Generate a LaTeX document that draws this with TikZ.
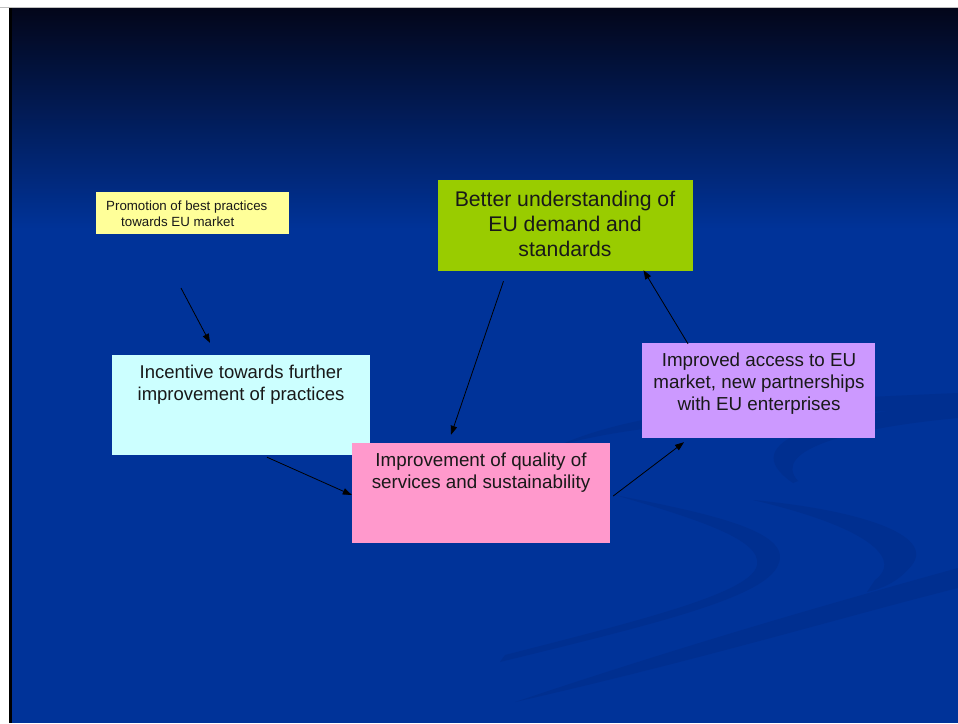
\documentclass[tikz,border=0pt]{standalone}
\usepackage{fontspec}
\setmainfont{Liberation Sans}
\usetikzlibrary{arrows.meta}

\definecolor{slideblue}{HTML}{003399}
\definecolor{topdark}{HTML}{03061A}
\definecolor{swoosh}{HTML}{002F90}
\definecolor{promoyellow}{HTML}{FFFF99}
\definecolor{eugreen}{HTML}{99CC00}
\definecolor{incentcyan}{HTML}{CCFFFF}
\definecolor{qualpink}{HTML}{FF99CC}
\definecolor{accesslilac}{HTML}{CC99FF}

\begin{document}
\begin{tikzpicture}[x=1pt,y=-1pt,every node/.style={inner sep=0pt},
  box/.style={rectangle,draw=none},
  txt/.style={align=center,text=black!90},
  arr/.style={-{Triangle[length=9pt,width=6.5pt]},line width=0.8pt,black}]
\useasboundingbox (0,0) rectangle (958,723);
% slide background
\fill[white] (0,0) rectangle (958,723);
\fill[slideblue] (9,8) rectangle (958,723);
\shade[top color=topdark,bottom color=slideblue] (9,8) rectangle (958,230);
\draw[gray!50,line width=1pt] (0,7.5) -- (958,7.5);
\fill[black] (9,8) rectangle (11.5,723);
% faint swooshes
\fill[swoosh] (560,445) .. controls (650,405) and (800,400) .. (958,393)
  -- (958,408) .. controls (800,415) and (650,420) .. (560,445) -- cycle;
\fill[swoosh] (615,495) .. controls (700,512) and (795,530) .. (778,565)
  .. controls (765,598) and (650,625) .. (500,662)
  -- (505,655) .. controls (650,618) and (752,592) .. (757,565)
  .. controls (762,540) and (700,520) .. (615,495) -- cycle;
\fill[swoosh] (958,402) .. controls (830,415) and (730,440) .. (793,483)
  -- (798,481) .. controls (770,450) and (850,428) .. (958,418) -- cycle;
\fill[swoosh] (753,500) .. controls (860,510) and (935,535) .. (912,565)
  .. controls (900,580) and (885,588) .. (867,592)
  -- (875,580) .. controls (900,562) and (880,530) .. (753,500) -- cycle;
\fill[swoosh] (515,702) .. controls (700,640) and (850,598) .. (958,568)
  -- (958,588) .. controls (850,615) and (700,660) .. (515,702) -- cycle;

% boxes
\node[box,fill=promoyellow,minimum width=193pt,minimum height=42pt] (promo) at (192.5,213) {};
\node[box,fill=eugreen,minimum width=255pt,minimum height=91pt] (green) at (565.5,225.5) {};
\node[box,fill=incentcyan,minimum width=258pt,minimum height=100pt] (cyan) at (241,405) {};
\node[box,fill=qualpink,minimum width=258pt,minimum height=100pt] (pink) at (481,493) {};
\node[box,fill=accesslilac,minimum width=233pt,minimum height=95pt] (lilac) at (758.5,390.5) {};

% texts
\node[txt,align=left,anchor=west,font=\fontsize{13.3}{16}\selectfont] (promotxt) at (106,214)
  {Promotion of best practices\\\hspace*{15pt}towards EU market};
\node[txt,font=\fontsize{21.2}{25}\selectfont] (greentxt) at (565,224)
  {Better understanding of\\EU demand and\\standards};
\node[txt,font=\fontsize{18.5}{21.5}\selectfont] (cyantxt) at (241,384.5)
  {Incentive towards further\\improvement of practices};
\node[txt,font=\fontsize{18.8}{22}\selectfont] (pinktxt) at (481,473)
  {Improvement of quality of\\services and sustainability};
\node[txt,font=\fontsize{18.8}{22}\selectfont] (lilactxt) at (759,384)
  {Improved access to EU\\market, new partnerships\\with EU enterprises};

% arrows
\coordinate (promoend) at (181,288);
\draw[arr] (promoend) -- ([xshift=-31pt,yshift=12pt]cyan.north);
\draw[arr] ([xshift=26pt,yshift=-2pt]cyan.south) -- ([yshift=-2pt]pink.west);
\draw[arr] ([xshift=-62pt,yshift=-10pt]green.south) -- ([xshift=-30pt,yshift=8pt]pink.north);
\draw[arr] ([xshift=3pt,yshift=-3pt]pink.east) -- ([xshift=-74.5pt,yshift=-4pt]lilac.south);
\draw[arr] ([xshift=-70.5pt,yshift=-1pt]lilac.north) -- ([xshift=78pt,yshift=1pt]green.south);
\end{tikzpicture}
\end{document}
